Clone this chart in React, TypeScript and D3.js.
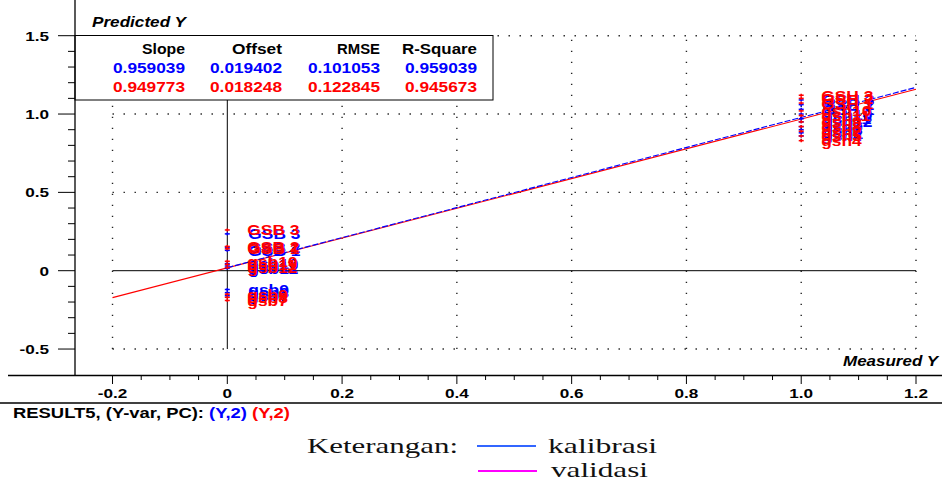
import React from "react";
import * as d3 from "d3";

// ---- data ----
const statHeaders = ["Slope", "Offset", "RMSE", "R-Square"];
const calibStats = ["0.959039", "0.019402", "0.101053", "0.959039"];
const validStats = ["0.949773", "0.018248", "0.122845", "0.945673"];
const calibSlope = 0.959039;
const calibOffset = 0.019402;
const validSlope = 0.949773;
const validOffset = 0.018248;

const calibNames = ["GSB 3", "GSB 2", "GSB 1", "gsb10", "gsb11", "gsb12", "gsb9", "gsb8", "gsb7",
  "GSH 3", "GSH 2", "GSH 1", "gsh10", "gsh11", "gsh12", "gsh9", "gsh8", "gsh7", "gsh4"];
const calibMeasured = [0, 0, 0, 0, 0, 0, 0, 0, 0, 1, 1, 1, 1, 1, 1, 1, 1, 1, 1];
const calibPredicted = [0.235, 0.15, 0.13, 0.045, 0.03, 0.015, -0.12, -0.14, -0.16,
  1.09, 1.06, 1.03, 1.0, 0.97, 0.95, 0.92, 0.9, 0.88, 0.86];

const validNames = ["GSB 3", "GSB 2", "GSB 1", "gsb10", "gsb11", "gsb12", "gsb9", "gsb8", "gsb7",
  "GSH 3", "GSH 2", "GSH 1", "gsh10", "gsh11", "gsh9", "gsh8", "gsh7", "gsh5", "gsh4"];
const validMeasured = [0, 0, 0, 0, 0, 0, 0, 0, 0, 1, 1, 1, 1, 1, 1, 1, 1, 1, 1];
const validPredicted = [0.26, 0.155, 0.14, 0.06, 0.04, 0.02, -0.15, -0.17, -0.19,
  1.12, 1.1, 1.07, 1.02, 0.99, 0.95, 0.92, 0.89, 0.86, 0.83];

const xTickLabels = ["-0.2", "0", "0.2", "0.4", "0.6", "0.8", "1.0", "1.2"];
const yTickLabels = ["-0.5", "0", "0.5", "1.0", "1.5"];
const legendLabels = ["kalibrasi", "validasi"];

const FONT = "'Liberation Sans', Arial, sans-serif";
const SERIF = "'Liberation Serif', 'Times New Roman', serif";
const BLUE = "#0000ff";
const RED = "#ff0000";

function T(props: any) {
  const { x, y, sx = 1.27, size = 13, anchor = "start", fill = "#000", italic = false, children } = props;
  return (
    <text
      transform={`translate(${x},${y}) scale(${sx},1)`}
      fontFamily={FONT}
      fontWeight="bold"
      fontStyle={italic ? "italic" : "normal"}
      fontSize={size}
      textAnchor={anchor}
      fill={fill}
    >
      {children}
    </text>
  );
}

export default function App() {
  const x = d3.scaleLinear().domain([0, 1.2]).range([227.3, 916]);
  const y = d3.scaleLinear().domain([0, 1.5]).range([270.7, 35.7]);

  const yMinor = d3.range(-5, 16).map((i) => i / 10);
  const xMinor = d3.range(-4, 25).map((i) => i / 20);
  const gridX = [-0.2, 0.2, 0.4, 0.6, 0.8, 1.0, 1.2];
  const gridY = [-0.5, 0.5, 1.0, 1.5];

  const validLine = d3
    .line<number>()
    .x((d) => x(d))
    .y((d) => y(validSlope * d + validOffset));
  const calibLine = d3
    .line<number>()
    .x((d) => x(d))
    .y((d) => y(calibSlope * d + calibOffset));

  const marker = (cx: number, cy: number, color: string, key: string) => (
    <g key={key} stroke={color} strokeWidth={1.5}>
      <line x1={cx - 2.5} x2={cx + 2.5} y1={cy} y2={cy} />
      <line x1={cx} x2={cx} y1={cy - 1.5} y2={cy + 1.5} />
    </g>
  );

  const statRight = [185, 282, 380, 477];
  const statW = [43, 50, 43, 75];

  return (
    <svg
      width={942}
      height={482}
      style={{ position: "absolute", left: 0, top: 0, background: "#fff" }}
    >
      <rect x={0} y={0} width={942} height={482} fill="#fff" />

      {/* dotted grid */}
      {gridX.map((g) => (
        <line key={"gx" + g} x1={x(g)} x2={x(g)} y1={y(-0.5)} y2={y(1.5)}
          stroke="#222" strokeWidth={1.4} strokeDasharray="1.4,9.6" />
      ))}
      {gridY.map((g) => (
        <line key={"gy" + g} x1={x(-0.2)} x2={x(1.2)} y1={y(g)} y2={y(g)}
          stroke="#222" strokeWidth={1.4} strokeDasharray="1.4,9.6" />
      ))}

      {/* zero lines */}
      <line x1={x(-0.2)} x2={x(1.2)} y1={y(0)} y2={y(0)} stroke="#000" strokeWidth={1} />
      <line x1={x(0)} x2={x(0)} y1={y(-0.5)} y2={y(1.5)} stroke="#000" strokeWidth={1} />

      {/* regression lines */}
      <path d={validLine([-0.2, 1.2]) || ""} stroke={RED} strokeWidth={1.1} fill="none" />
      <path d={calibLine([0, 1.2]) || ""} stroke={BLUE} strokeWidth={1.1} fill="none" strokeDasharray="6,2" />

      {/* markers */}
      {calibMeasured.map((m, i) => marker(x(m), y(calibPredicted[i]), BLUE, "cm" + i))}
      {validMeasured.map((m, i) => marker(x(m), y(validPredicted[i]), RED, "vm" + i))}

      {/* labels */}
      {calibMeasured.map((m, i) => (
        <T key={"cl" + i} x={x(m) + 21} y={y(calibPredicted[i]) + 5.5} fill={BLUE} size={14.5} sx={1.2}>
          {calibNames[i]}
        </T>
      ))}
      {validMeasured.map((m, i) => (
        <T key={"vl" + i} x={x(m) + 20} y={y(validPredicted[i]) + 5.5} fill={RED} size={14.5} sx={1.2}>
          {validNames[i]}
        </T>
      ))}

      {/* stats box */}
      <rect x={75} y={35.5} width={418} height={64.5} fill="#fff" stroke="#000" strokeWidth={1} />
      {statHeaders.map((h, i) => (
        <text key={"h" + i} x={statRight[i]} y={54} textAnchor="end" fontFamily={FONT}
          fontWeight="bold" fontSize={14.5} textLength={statW[i]} lengthAdjust="spacingAndGlyphs">
          {h}
        </text>
      ))}
      {calibStats.map((v, i) => (
        <text key={"c" + i} x={statRight[i]} y={73} textAnchor="end" fontFamily={FONT}
          fontWeight="bold" fontSize={14.5} fill={BLUE} textLength={72} lengthAdjust="spacingAndGlyphs">
          {v}
        </text>
      ))}
      {validStats.map((v, i) => (
        <text key={"v" + i} x={statRight[i]} y={92} textAnchor="end" fontFamily={FONT}
          fontWeight="bold" fontSize={14.5} fill={RED} textLength={72} lengthAdjust="spacingAndGlyphs">
          {v}
        </text>
      ))}

      {/* axes */}
      <line x1={75} x2={75} y1={0} y2={375.5} stroke="#000" strokeWidth={1.3} />
      <line x1={8} x2={942} y1={375.5} y2={375.5} stroke="#000" strokeWidth={1.3} />
      <line x1={0} x2={942} y1={403} y2={403} stroke="#000" strokeWidth={1.3} />

      {yMinor.map((v, i) => {
        const major = Math.abs(Math.round(v * 10)) % 5 === 0;
        return (
          <line key={"yt" + i} x1={major ? 58 : 68} x2={75} y1={y(v)} y2={y(v)} stroke="#000" strokeWidth={1} />
        );
      })}
      {xMinor.map((v, i) => {
        const major = Math.abs(Math.round(v * 20)) % 4 === 0;
        return (
          <line key={"xt" + i} x1={x(v)} x2={x(v)} y1={375.5} y2={major ? 384 : 380} stroke="#000" strokeWidth={1} />
        );
      })}

      {yTickLabels.map((l) => (
        <T key={"yl" + l} x={49} y={y(+l) + 5} anchor="end" size={13.5}>{l}</T>
      ))}
      {xTickLabels.map((l) => (
        <T key={"xl" + l} x={x(+l)} y={398} anchor="middle" size={13.5}>{l}</T>
      ))}

      {/* axis titles */}
      <text x={92} y={27} fontFamily={FONT} fontWeight="bold" fontStyle="italic" fontSize={14}
        textLength={94} lengthAdjust="spacingAndGlyphs">Predicted Y</text>
      <text x={938} y={366} textAnchor="end" fontFamily={FONT} fontWeight="bold" fontStyle="italic"
        fontSize={14} textLength={95} lengthAdjust="spacingAndGlyphs">Measured Y</text>

      {/* result line */}
      <text x={13} y={417.5} fontFamily={FONT} fontWeight="bold" fontSize={14}
        textLength={277} lengthAdjust="spacingAndGlyphs">
        <tspan fill="#000">RESULT5, (Y-var, PC): </tspan>
        <tspan fill={BLUE}>(Y,2)</tspan>
        <tspan fill="#000"> </tspan>
        <tspan fill={RED}>(Y,2)</tspan>
      </text>

      {/* legend */}
      <text x={307} y={453} fontFamily={SERIF} fontSize={21} fill="#111"
        textLength={151} lengthAdjust="spacingAndGlyphs">Keterangan:</text>
      <line x1={477} x2={536} y1={446} y2={446} stroke="#3366ff" strokeWidth={2} />
      <line x1={478} x2={537} y1={471} y2={471} stroke="#ff00ff" strokeWidth={2} />
      <text x={548} y={453} fontFamily={SERIF} fontSize={21} fill="#111"
        textLength={109} lengthAdjust="spacingAndGlyphs">{legendLabels[0]}</text>
      <text x={551} y={477} fontFamily={SERIF} fontSize={21} fill="#111"
        textLength={97} lengthAdjust="spacingAndGlyphs">{legendLabels[1]}</text>
    </svg>
  );
}
